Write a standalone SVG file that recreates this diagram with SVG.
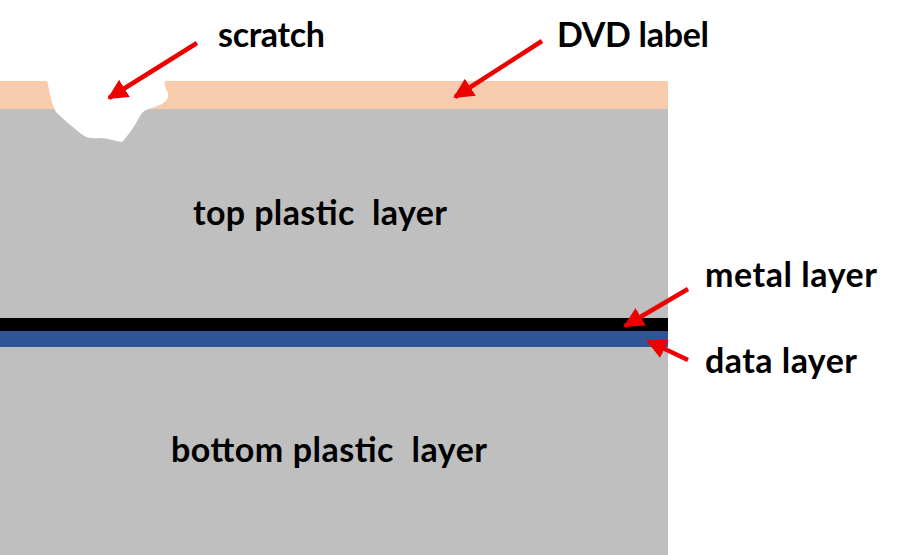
<svg xmlns="http://www.w3.org/2000/svg" width="900" height="555" viewBox="0 0 900 555">
<style>
.t{font-family:Lato,"Open Sans",sans-serif;font-weight:bold;font-size:34px;fill:#000;white-space:pre}
.a{stroke:#ee0000;stroke-width:4.5;fill:none}
</style>
<defs>
<marker id="ah" viewBox="0 0 10 10" refX="9" refY="5" markerWidth="4.5" markerHeight="4.5" orient="auto" markerUnits="strokeWidth">
<path d="M0,0 L10,5 L0,10 z" fill="#ee0000"/>
</marker>
</defs>
<rect width="900" height="555" fill="#fff"/>
<g id="label-layer"><rect x="0" y="81" width="668" height="28" fill="#f8cbad"/></g>
<g id="top-plastic"><rect x="0" y="109" width="668" height="209" fill="#bfbfbf"/>
<text class="t" x="193" y="225" textLength="254" xml:space="preserve">top plastic  layer</text></g>
<g id="metal-layer"><rect x="0" y="318" width="668" height="13" fill="#000"/></g>
<g id="data-layer"><rect x="0" y="331" width="668" height="16" fill="#2f5597"/></g>
<g id="bottom-plastic"><rect x="0" y="347" width="668" height="208" fill="#bfbfbf"/>
<text class="t" x="171" y="462" textLength="316" xml:space="preserve">bottom plastic  layer</text></g>
<g id="scratch"><path d="M47,80 C50,95 52,105 56,112 C64,120 72,126 80,133 C86,138 92,139 100,138 C108,138 114,141 122,142 C128,136 131,130 135,125 C139,118 141,112 146,110 C152,108 158,106 162,104 C167,101 169,97 168,93 C166,89 164,86 165,80 Z" fill="#fff"/></g>
<g id="labels">
<text class="t" x="218" y="47" textLength="107">scratch</text>
<text class="t" x="557" y="47" textLength="152">DVD label</text>
<text class="t" x="705" y="287" textLength="172">metal layer</text>
<text class="t" x="705" y="373" textLength="152">data layer</text>
</g>
<g id="connectors">
<line class="a" x1="197" y1="43" x2="109" y2="98" marker-end="url(#ah)"/>
<line class="a" x1="542" y1="41" x2="455" y2="97" marker-end="url(#ah)"/>
<line class="a" x1="688" y1="289" x2="625" y2="326" marker-end="url(#ah)"/>
<line class="a" x1="688" y1="360" x2="648" y2="341" marker-end="url(#ah)"/>
</g>
</svg>
